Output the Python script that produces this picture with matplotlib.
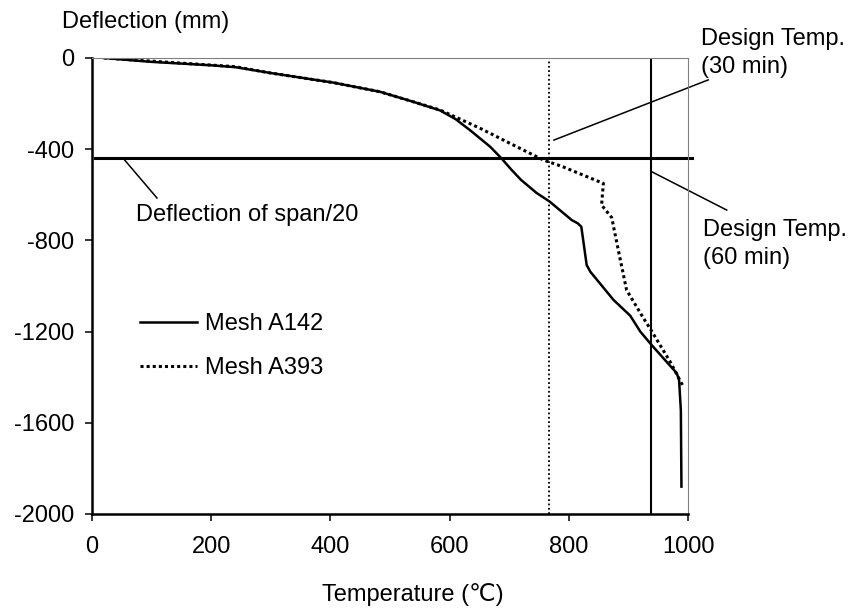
import matplotlib
matplotlib.use('Agg')
import matplotlib.pyplot as plt

plt.rcParams['font.family'] = ['Liberation Sans', 'DejaVu Sans']
plt.rcParams['axes.unicode_minus'] = False
fs = 17

# Mesh A142 (solid)
temp_a142 = [20, 100, 200, 240, 300, 405, 483, 539, 584, 610, 634, 668, 687, 703, 720, 746,
             768, 805, 815, 821, 830, 836, 875, 903, 920, 939, 981, 985, 988, 989]
defl_a142 = [0, -17, -32, -40, -66, -108, -148, -192, -230, -268, -316, -389, -440, -488, -535, -592,
             -630, -711, -725, -740, -908, -937, -1061, -1130, -1200, -1259, -1382, -1412, -1544, -1880]

# Mesh A393 (dotted)
temp_a393 = [20, 240, 300, 405, 483, 539, 584, 651, 701, 757, 790, 830, 858, 855,
             872, 886, 897, 925, 936, 970, 992]
defl_a393 = [0, -38, -66, -108, -148, -192, -228, -308, -374, -447, -477, -520, -550, -645,
             -700, -880, -1018, -1140, -1185, -1332, -1441]

design_temp_30 = 767
design_temp_60 = 938
span_limit = -440

xticks = [0, 200, 400, 600, 800, 1000]
yticks = [0, -400, -800, -1200, -1600, -2000]

fig = plt.figure(figsize=(8.61, 6.09), dpi=100)
ax = fig.add_axes([92 / 861, 1 - 514 / 609, 596 / 861, 456 / 609])

ax.plot(temp_a142, defl_a142, color='black', lw=1.8, label='Mesh A142')
ax.plot(temp_a393, defl_a393, color='black', lw=2.2, linestyle=(0, (1, 1)), label='Mesh A393')

ax.axvline(design_temp_30, color='black', lw=1.3, linestyle=(0, (1, 1.4)))
ax.axvline(design_temp_60, color='black', lw=1.5)
ax.plot([5, 1007], [span_limit, span_limit], color='black', lw=2.2, clip_on=False)

# leader lines and notes
ax.plot([52, 109], [-439, -614], color='black', lw=1.1)
ax.plot([775, 1034], [-360, -96], color='black', lw=1.1, clip_on=False)
ax.plot([940, 1065], [-500, -667], color='black', lw=1.1, clip_on=False)
ax.text(74, -689, 'Deflection of span/20', fontsize=fs, ha='left', va='center')
ax.text(1022, 20, 'Design Temp.\n(30 min)', fontsize=fs, ha='left', va='center',
        linespacing=1.35, clip_on=False)
ax.text(1025, -816, 'Design Temp.\n(60 min)', fontsize=fs, ha='left', va='center',
        linespacing=1.35, clip_on=False)

ax.set_xlim(0, 1000)
ax.set_ylim(-2000, 0)
ax.set_xticks(xticks)
ax.set_yticks(yticks)
ax.set_yticklabels([str(v) for v in yticks])
ax.tick_params(direction='out', length=5, width=1.1, labelsize=fs)
ax.tick_params(axis='x', pad=11)
ax.tick_params(axis='y', pad=8)

for side in ['left', 'bottom']:
    ax.spines[side].set_linewidth(1.8)
    ax.spines[side].set_color('black')
for side in ['top', 'right']:
    ax.spines[side].set_linewidth(0.8)
    ax.spines[side].set_color('#808080')

fig.text(62 / 861, 1 - 22 / 609, 'Deflection (mm)', fontsize=fs, ha='left', va='center')
fig.text(413 / 861, 1 - 595 / 609, 'Temperature (\u2103)', fontsize=fs, ha='center', va='center')

ax.legend(loc='center left', bbox_to_anchor=(0.0805, 0.368), frameon=False, fontsize=fs,
          handlelength=2.4, handletextpad=0.35, labelspacing=0.95, borderpad=0, borderaxespad=0)

fig.savefig('out.png', dpi=100)
